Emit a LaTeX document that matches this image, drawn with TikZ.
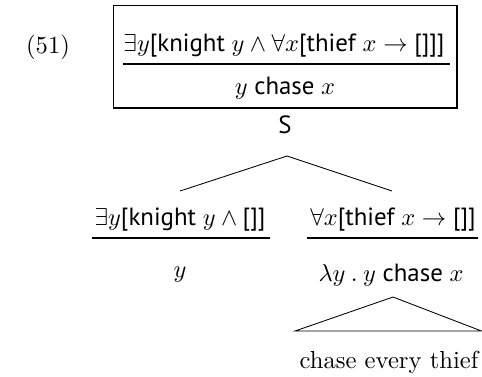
\documentclass[tikz,border=0pt]{standalone}
\usepackage{fontspec}
\setsansfont{PT Sans}
\usetikzlibrary{positioning}

\begin{document}
\begin{tikzpicture}[
  x=0.41pt, y=-0.41pt,
  lab/.style={font=\fontsize{10.2}{12}\selectfont\sffamily, inner sep=0pt},
  txt/.style={font=\fontsize{10.1}{12}\selectfont\rmfamily, inner sep=0pt},
  frame/.style={draw, line width=0.45pt, inner sep=0pt},
  bar/.style={line width=0.45pt},
  branch/.style={line width=0.35pt},
]
  \useasboundingbox (0,0) rectangle (482,376);

  % example number and the boxed top node
  \node[txt] (num) at (48,47) {(51)};
  \node[frame, minimum width=141pt, minimum height=42.2pt] (box) at (285,56.5) {};
  \node[lab] (top) at (284,46) {$\exists y$[knight $y \wedge \forall x$[thief $x \to$ []]]};
  \draw[bar] (123,64) -- (450,64);
  \node[lab] (body) at (285,88) {$y$ chase $x$};
  \node[lab] (S) at (285,125) {S};

  % daughters
  \node[lab] (lq) at (180,220) {$\exists y$[knight $y \wedge{}$[]]};
  \draw[bar] (92,238) -- (270,238);
  \node[lab] (lv) at (180,275) {$y$};
  \node[lab] (rq) at (393,220) {$\forall x$[thief $x \to$ []]};
  \draw[bar] (307,238) -- (478,238);
  \node[lab] (rv) at (391,275) {$\lambda y\:.\:y$ chase $x$};
  \node[txt] (leaf) at (389,362) {chase every thief};

  % branches
  \coordinate (sApex) at (287,156);
  \coordinate (lTop) at (180,191);
  \coordinate (rTop) at (392,191);
  \draw[branch] (sApex) -- (lTop);
  \draw[branch] (sApex) -- (rTop);

  % roof over the leaf
  \coordinate (vApex) at (393,297);
  \coordinate (roofL) at (295,331);
  \coordinate (roofR) at (481.5,331);
  \draw[branch] (roofL) -- (vApex) -- (roofR) -- cycle;
\end{tikzpicture}
\end{document}
